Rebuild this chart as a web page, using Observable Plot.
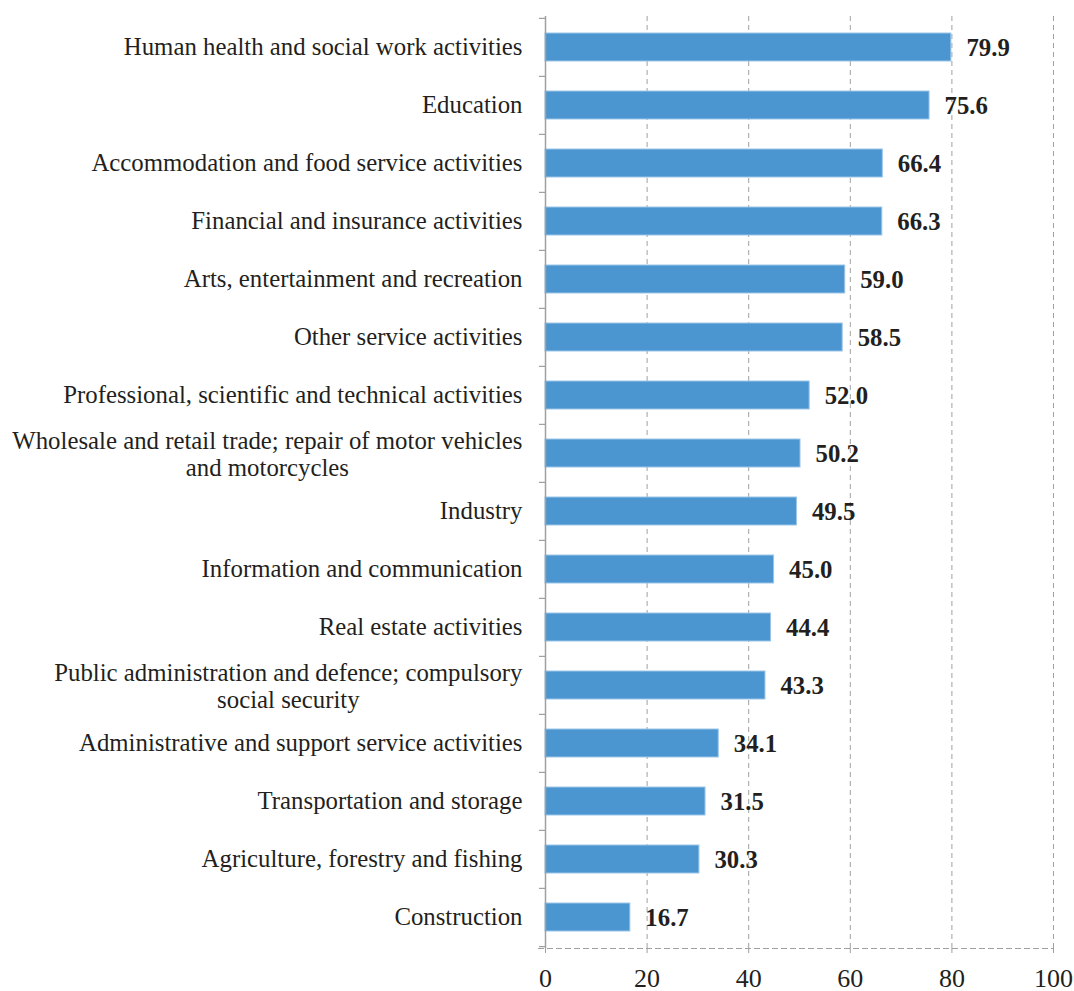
<!DOCTYPE html>
<html><head><meta charset="utf-8">
<script src="https://cdn.jsdelivr.net/npm/d3@7"></script>
<script src="https://cdn.jsdelivr.net/npm/@observablehq/plot@0.6"></script>
<style>body{margin:0;background:#fff}</style>
</head><body><div id="chart"></div>
<script>
const categories = [
  "Human health and social work activities",
  "Education",
  "Accommodation and food service activities",
  "Financial and insurance activities",
  "Arts, entertainment and recreation",
  "Other service activities",
  "Professional, scientific and technical activities",
  "Wholesale and retail trade; repair of motor vehicles\nand motorcycles",
  "Industry",
  "Information and communication",
  "Real estate activities",
  "Public administration and defence; compulsory\nsocial security",
  "Administrative and support service activities",
  "Transportation and storage",
  "Agriculture, forestry and fishing",
  "Construction"
];
const values = [79.9, 75.6, 66.4, 66.3, 59.0, 58.5, 52.0, 50.2, 49.5, 45.0, 44.4, 43.3, 34.1, 31.5, 30.3, 16.7];
const xTicks = [0, 20, 40, 60, 80, 100];

const data = categories.map((c, i) => ({category: c, value: values[i]}));

const W = 1074, H = 991, mt = 16, mb = 43, ml = 545, mr = 21;
const step = (H - mt - mb) / categories.length;
const FONT = '"Liberation Serif","Times New Roman",serif';
const FS = 24.8;
const FS_X = 26;
const grey = "#a0a0a0";
const ink = "#231f20";
const tickLenUnits = 6 * 100 / (W - ml - mr);

const ctx = document.createElement("canvas").getContext("2d");
ctx.font = `${FS}px ${FONT}`;
const textW = s => Math.max(...s.split("\n").map(l => ctx.measureText(l).width));

const single = categories.filter(c => !c.includes("\n"));
const multi = categories.filter(c => c.includes("\n"));
const labelGap = 23;

const marks = [
  Plot.gridX({ticks: xTicks.slice(1), stroke: grey, strokeOpacity: 1, strokeDasharray: "5,4", strokeWidth: 1}),
  Plot.frame({anchor: "bottom", stroke: grey, strokeDasharray: "5,4", strokeWidth: 1, insetLeft: -7}),
  Plot.barX(data, {y: "category", x: "value", fill: "#4b96d1", stroke: "#9cc5e8", strokeWidth: 1}),
  Plot.text(data, {y: "category", x: "value", text: d => d.value.toFixed(1), textAnchor: "start", dx: 15, dy: 1, fontWeight: "bold", fontSize: FS, fill: ink}),
  Plot.ruleX([0], {stroke: grey, strokeWidth: 1.5}),
  Plot.ruleY(categories, {y: d => d, x1: -tickLenUnits, x2: 0, dy: -step / 2, stroke: grey, strokeWidth: 1.2}),
  Plot.ruleY([categories[categories.length - 1]], {y: d => d, x1: -tickLenUnits, x2: 0, dy: step / 2, stroke: grey, strokeWidth: 1.2}),
  Plot.axisX({ticks: xTicks, tickSize: 5, tickPadding: 15, stroke: grey, fill: ink, fontSize: FS_X, label: null}),
  Plot.text(single, {y: d => d, frameAnchor: "left", textAnchor: "end", dx: -labelGap, fontSize: FS, fill: ink}),
  ...multi.map(c => Plot.text([c], {y: d => d, frameAnchor: "left", textAnchor: "middle", lineHeight: 1.12, dx: -labelGap - textW(c) / 2, fontSize: FS, fill: ink}))
];

const chart = Plot.plot({
  width: W, height: H,
  marginTop: mt, marginBottom: mb, marginLeft: ml, marginRight: mr,
  style: {fontFamily: FONT, fontSize: FS + "px", color: ink, background: "white", overflow: "visible"},
  x: {domain: [0, 100], axis: null},
  y: {domain: categories, paddingInner: 0.52, paddingOuter: 0.26, axis: null},
  marks
});
document.getElementById("chart").append(chart);
</script>
</body></html>
